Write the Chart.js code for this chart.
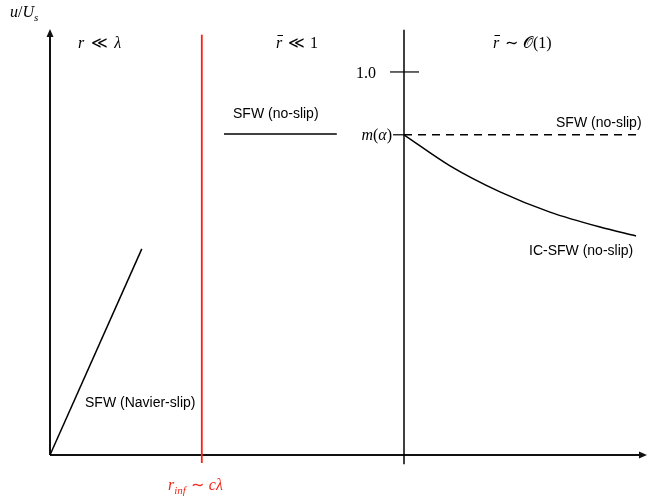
<!DOCTYPE html>
<html>
<head>
<meta charset="utf-8">
<script src="https://cdn.jsdelivr.net/npm/chart.js@4/dist/chart.umd.min.js"></script>
<style>
    html, body {margin: 0; padding: 0; background: #fff;}
</style>
</head>
<body>
<canvas id="myChart" width="658" height="500"></canvas>
<script>
// velocity profiles u/U_s against distance r (schematic units)
const navierR = [0, 1.53], navierU = [0, 0.538];
const noSlipR = [2.9, 4.78], noSlipU = [0.838, 0.838];
const farR = [5.9, 9.8], farU = [0.836, 0.836];
const icR = [5.9, 6.667, 7.5, 8.333, 9.167, 9.767];
const icU = [0.836, 0.755, 0.687, 0.634, 0.595, 0.572];

// region boundaries and marked levels
const rInf = 2.53, rOuter = 5.9;
const unitLevel = 1.0, mAlpha = 0.836;

const pts = (xs, ys) => xs.map((x, i) => ({x: x, y: ys[i]}));

const serif = '"Liberation Serif", "Times New Roman", serif';
const sans = '"Liberation Sans", Arial, sans-serif';

// draws a run of text pieces left to right
function run(ctx, x, y, parts, color) {
    ctx.fillStyle = color || '#000';
    ctx.textAlign = 'left';
    ctx.textBaseline = 'alphabetic';
    parts.forEach(function (p) {
        ctx.font = p.f;
        ctx.fillText(p.t, x, y + (p.dy || 0));
        x += ctx.measureText(p.t).width + (p.gap || 0);
    });
}

function rBar(ctx, x, y) {
    ctx.font = 'italic 16px ' + serif;
    ctx.fillText('r', x, y);
    ctx.save();
    ctx.lineWidth = 1;
    ctx.strokeStyle = '#000';
    ctx.beginPath();
    ctx.moveTo(x + 1.5, y - 12.5);
    ctx.lineTo(x + 7, y - 12.5);
    ctx.stroke();
    ctx.restore();
}

const sketch = {
    id: 'sketch',
    beforeDatasetsDraw: function (chart) {
        const c = chart.ctx, sx = chart.scales.x, sy = chart.scales.y;
        const x0 = sx.getPixelForValue(0), y0 = sy.getPixelForValue(0);
        const xEnd = sx.getPixelForValue(9.95), yEnd = sy.getPixelForValue(1.112);
        c.save();
        c.lineWidth = 2;
        c.strokeStyle = '#111';
        c.fillStyle = '#111';
        c.beginPath();
        c.moveTo(x0, y0);
        c.lineTo(x0, yEnd + 6);
        c.moveTo(x0, y0);
        c.lineTo(xEnd - 6, y0);
        c.stroke();
        // arrow heads
        c.beginPath();
        c.moveTo(x0, yEnd);
        c.lineTo(x0 - 3.5, yEnd + 8);
        c.lineTo(x0 + 3.5, yEnd + 8);
        c.closePath();
        c.fill();
        c.beginPath();
        c.moveTo(xEnd, y0);
        c.lineTo(xEnd - 8, y0 - 3.5);
        c.lineTo(xEnd - 8, y0 + 3.5);
        c.closePath();
        c.fill();
        c.restore();
    },
    afterDatasetsDraw: function (chart) {
        const c = chart.ctx, sx = chart.scales.x, sy = chart.scales.y;
        const it = 'italic 16px ' + serif, up = '16px ' + serif;
        c.save();

        run(c, 10, 17, [{t: 'u', f: it}, {t: '/', f: up}, {t: 'U', f: it}, {t: 's', f: 'italic 11px ' + serif, dy: 4}]);
        run(c, 78, 48, [{t: 'r', f: it, gap: 7}, {t: '\u226A', f: up, gap: 6}, {t: '\u03BB', f: it}]);

        rBar(c, 276, 48);
        run(c, 288, 48, [{t: '\u226A', f: up, gap: 5}, {t: '1', f: up}]);

        rBar(c, 493, 48);
        run(c, 505, 48, [{t: '\u223C', f: up, gap: 5}, {t: '\uD835\uDCAA', f: up}, {t: '(1)', f: up}]);

        c.font = up;
        c.textAlign = 'right';
        c.fillText('1.0', sx.getPixelForValue(rOuter) - 28, sy.getPixelForValue(unitLevel) + 6);

        const mx = sx.getPixelForValue(rOuter) - 12, my = sy.getPixelForValue(mAlpha) + 5;
        const wParts = [{t: 'm', f: it}, {t: '(', f: up}, {t: '\u03B1', f: it}, {t: ')', f: up}];
        let w = 0;
        wParts.forEach(function (p) { c.font = p.f; w += c.measureText(p.t).width; });
        run(c, mx - w, my, wParts);

        c.font = '14px ' + sans;
        c.fillStyle = '#000';
        c.textAlign = 'left';
        c.fillText('SFW (no-slip)', 233, 118);
        c.fillText('SFW (no-slip)', 556, 127);
        c.fillText('IC-SFW (no-slip)', 529, 255);
        c.fillText('SFW (Navier-slip)', 85, 407);

        run(c, 168, 490, [{t: 'r', f: it}, {t: 'inf', f: 'italic 11px ' + serif, dy: 4, gap: 5},
            {t: '\u223C', f: up, gap: 5}, {t: 'c\u03BB', f: it}], '#f02a1c');
        c.restore();
    }
};

const line = (data, color, extra) => Object.assign({
    data: data, showLine: true, borderColor: color, borderWidth: 1.5,
    pointRadius: 0, fill: false, clip: false
}, extra || {});

new Chart(document.getElementById('myChart'), {
    type: 'scatter',
    data: {
        datasets: [
            line(pts([rInf, rInf], [-0.021, 1.097]), '#ff1f10', {borderWidth: 1.8}),
            line(pts([rOuter, rOuter], [-0.024, 1.11]), '#000'),
            line(pts([5.667, 6.15], [unitLevel, unitLevel]), '#000', {borderWidth: 1.2}),
            line(pts([5.717, rOuter], [mAlpha, mAlpha]), '#000', {borderWidth: 1.2}),
            line(pts(navierR, navierU), '#000'),
            line(pts(noSlipR, noSlipU), '#000'),
            line(pts(farR, farU), '#000', {borderDash: [8, 6]}),
            line(pts(icR, icU), '#000', {cubicInterpolationMode: 'monotone'})
        ]
    },
    plugins: [sketch],
    options: {
        responsive: false,
        animation: false,
        layout: {padding: {left: 50, right: 8, top: 26, bottom: 45}},
        plugins: {legend: {display: false}, tooltip: {enabled: false}},
        scales: {
            x: {type: 'linear', min: 0, max: 10, display: false},
            y: {type: 'linear', min: 0, max: 1.12, display: false}
        }
    }
});
</script>
</body>
</html>
